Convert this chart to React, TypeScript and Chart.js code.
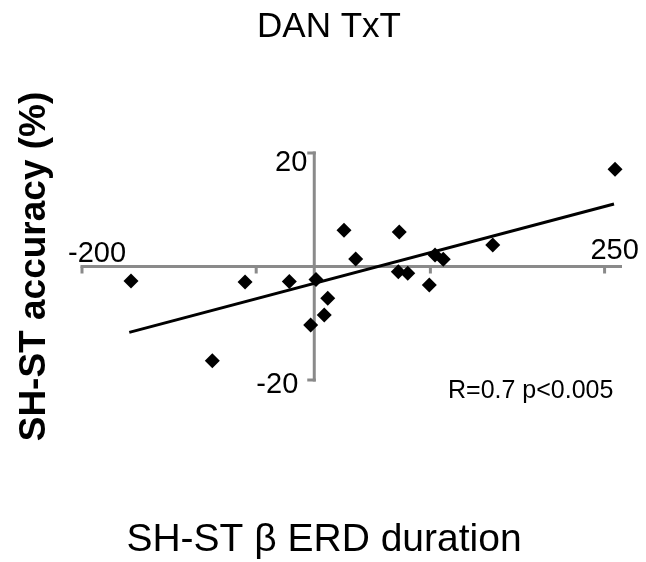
import React, { useEffect, useRef } from "react";
import { Chart, registerables } from "chart.js";

Chart.register(...registerables);

const chartTitle = "DAN TxT";
const xAxisTitle = "SH-ST β ERD duration";
const yAxisTitle = "SH-ST accuracy (%)";
const statsLabel = "R=0.7 p<0.005";

const xValues = [-157.8, -59.6, -21.5, 1.5, 11.6, 8.6, -3.1, -87.8, 25.6, 35.7, 259, 73.2, 72.4, 80.5, 99.1, 104, 111.1, 153.7];
const yValues = [-2.55, -2.73, -2.66, -2.31, -5.6, -8.55, -10.3, -16.6, 6.4, 1.32, 17.13, 6.08, -0.92, -1.2, -3.26, 2.03, 1.27, 3.79];

const trendX = [-159.3, 258.1];
const trendY = [-11.6, 11.0];

const xTicks = [-200, -50, 100, 250];
const xTickLabels = ["-200", "", "", "250"];
const yTicks = [-20, 20];
const yTickLabels = ["-20", "20"];

const X_MIN = -200;
const X_MAX = 265;
const Y_MIN = -20;
const Y_MAX = 20;

const FONT = "'Liberation Sans', Arial, Helvetica, sans-serif";
const AXIS_COLOR = "#8a8a8a";

const axesPlugin = {
  id: "crossAxes",
  beforeDatasetsDraw(chart: any) {
    const { ctx } = chart;
    const xs = chart.scales.x;
    const ys = chart.scales.y;
    const x0 = xs.getPixelForValue(0);
    const y0 = ys.getPixelForValue(0);
    ctx.save();
    ctx.strokeStyle = AXIS_COLOR;
    ctx.lineWidth = 3;
    ctx.lineCap = "butt";
    ctx.beginPath();
    ctx.moveTo(xs.getPixelForValue(X_MIN) - 1.5, y0);
    ctx.lineTo(xs.getPixelForValue(X_MAX), y0);
    ctx.stroke();
    xTicks.forEach((t) => {
      const px = xs.getPixelForValue(t);
      ctx.beginPath();
      ctx.moveTo(px, y0);
      ctx.lineTo(px, y0 + 7);
      ctx.stroke();
    });
    ctx.beginPath();
    ctx.moveTo(x0, ys.getPixelForValue(Y_MAX) - 1.5);
    ctx.lineTo(x0, ys.getPixelForValue(Y_MIN) + 1.5);
    ctx.stroke();
    yTicks.forEach((t) => {
      const py = ys.getPixelForValue(t);
      ctx.beginPath();
      ctx.moveTo(x0 + 1.5, py);
      ctx.lineTo(x0 - 7, py);
      ctx.stroke();
    });
    ctx.restore();
  },
  afterDraw(chart: any) {
    const { ctx, width, chartArea } = chart;
    const xs = chart.scales.x;
    const ys = chart.scales.y;
    const x0 = xs.getPixelForValue(0);
    const y0 = ys.getPixelForValue(0);
    ctx.save();
    ctx.fillStyle = "#000";

    ctx.font = `29px ${FONT}`;
    ctx.textAlign = "center";
    ctx.textBaseline = "alphabetic";
    xTicks.forEach((t, i) => {
      const lbl = xTickLabels[i];
      if (!lbl) return;
      const px = xs.getPixelForValue(t);
      ctx.fillText(lbl, px + (t < 0 ? 15 : 10), y0 - (t < 0 ? 5 : 8));
    });
    ctx.textAlign = "right";
    ctx.textBaseline = "middle";
    yTicks.forEach((t, i) => {
      const py = ys.getPixelForValue(t);
      ctx.fillText(yTickLabels[i], x0 - (t > 0 ? 7 : 16), py + (t > 0 ? 10 : 5));
    });

    ctx.font = `35px ${FONT}`;
    ctx.textAlign = "center";
    ctx.textBaseline = "alphabetic";
    ctx.fillText(chartTitle, width / 2 + 6, 37);

    ctx.font = `39px ${FONT}`;
    ctx.fillText(xAxisTitle, width / 2 + 1, 551);

    ctx.font = `25px ${FONT}`;
    ctx.textAlign = "left";
    ctx.fillText(statsLabel, 448, ys.getPixelForValue(Y_MIN) + 18);

    ctx.font = `bold 37px ${FONT}`;
    ctx.translate(45, (chartArea.top + chartArea.bottom) / 2);
    ctx.rotate(-Math.PI / 2);
    ctx.textAlign = "center";
    ctx.textBaseline = "alphabetic";
    ctx.fillText(yAxisTitle, 0, 0);
    ctx.restore();
  },
};

export default function App() {
  const canvasRef = useRef<HTMLCanvasElement | null>(null);

  useEffect(() => {
    document.body.style.margin = "0";
    const canvas = canvasRef.current;
    if (!canvas) return;
    const points = xValues.map((x, i) => ({ x, y: yValues[i] }));
    const trend = trendX.map((x, i) => ({ x, y: trendY[i] }));
    const chart = new Chart(canvas, {
      type: "scatter",
      data: {
        datasets: [
          {
            type: "scatter",
            label: "data",
            data: points,
            pointStyle: "rectRot",
            pointRadius: 7.5,
            pointBackgroundColor: "#000",
            pointBorderColor: "#000",
            pointBorderWidth: 0,
            order: 1,
            clip: false,
          } as any,
          {
            type: "line",
            label: "trend",
            data: trend,
            borderColor: "#000",
            borderWidth: 3,
            pointRadius: 0,
            showLine: true,
            fill: false,
            order: 2,
            clip: false,
          } as any,
        ],
      },
      options: {
        responsive: false,
        animation: false,
        devicePixelRatio: 1,
        layout: { padding: { left: 82, right: 24, top: 153, bottom: 182 } },
        scales: {
          x: { type: "linear", min: X_MIN, max: X_MAX, display: false },
          y: { type: "linear", min: Y_MIN, max: Y_MAX, display: false },
        },
        plugins: {
          legend: { display: false },
          tooltip: { enabled: false },
          title: { display: false },
        },
      },
      plugins: [axesPlugin],
    });
    return () => chart.destroy();
  }, []);

  return (
    <div style={{ width: 646, height: 562, background: "#fff" }}>
      <canvas ref={canvasRef} width={646} height={562} style={{ display: "block" }} />
    </div>
  );
}
